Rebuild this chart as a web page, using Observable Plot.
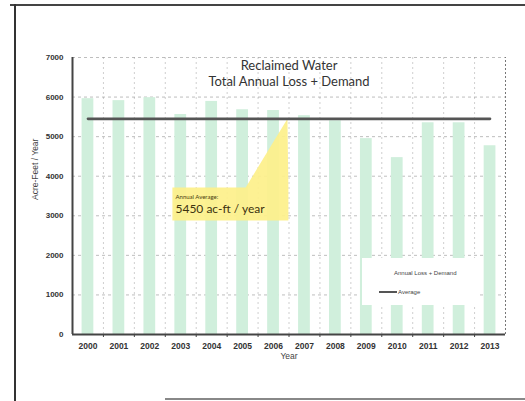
<!DOCTYPE html>
<html>
<head>
<meta charset="utf-8">
<script src="https://cdn.jsdelivr.net/npm/d3@7"></script>
<script src="https://cdn.jsdelivr.net/npm/@observablehq/plot@0.6"></script>
<style>
  html, body { margin: 0; padding: 0; background: #fff; }
  #wrap { position: relative; width: 525px; height: 401px; overflow: hidden; background: #fff; }
  #wrap svg { position: absolute; left: 0; top: 0; }
  .edge { position: absolute; }
  #legend { position: absolute; left: 362px; top: 258px; width: 116px; height: 47px; background: #fff;
            font-family: "Liberation Sans", Arial, sans-serif; font-size: 6px; color: #444; }
  #legend .row1 { position: absolute; left: 32px; top: 12px; white-space: nowrap; }
  #legend .row2 { position: absolute; left: 17px; top: 31px; white-space: nowrap; display: flex; align-items: center; }
  #legend .ln { display: inline-block; width: 18px; height: 2px; background: #555; margin-right: 1px; }
</style>
</head>
<body>
<div id="wrap"></div>
<script>
// ---- data ----
const years = [2000, 2001, 2002, 2003, 2004, 2005, 2006, 2007, 2008, 2009, 2010, 2011, 2012, 2013];
const lossDemand = [5960, 5910, 5985, 5560, 5890, 5680, 5660, 5530, 5400, 4950, 4470, 5350, 5350, 4770];
const annualAverage = 5450;
const yTicks = [0, 1000, 2000, 3000, 4000, 5000, 6000, 7000];
const titleLines = ["Reclaimed Water", "Total Annual Loss + Demand"];
const yLabel = "Acre-Feet / Year";
const xLabel = "Year";
const seriesNames = ["Annual Loss + Demand", "Average"];
const calloutSmall = "Annual Average:";
const calloutBig = "5450 ac-ft / year";
// callout shape (data units: year, acre-feet)
const calloutShapeX = [2002.73, 2005.1, 2006.45, 2006.48, 2006.48, 2002.73];
const calloutShapeY = [3715, 3715, annualAverage, 3715, 2881, 2881];

const rows = years.map((y, i) => ({year: y, value: lossDemand[i]}));
const bounds = years.slice(0, -1).map(y => y + 0.5);
const callout = calloutShapeX.map((x, i) => ({x, y: calloutShapeY[i]}));
const half = 0.19;

const chart = Plot.plot({
  width: 525,
  height: 401,
  marginLeft: 72,
  marginRight: 20,
  marginTop: 57,
  marginBottom: 67,
  style: {background: "transparent", fontFamily: "'Liberation Sans', Arial, sans-serif"},
  x: {type: "linear", domain: [1999.5, 2013.5], axis: null},
  y: {domain: [0, 7000], axis: null},
  marks: [
    Plot.ruleY(yTicks.slice(1), {stroke: "#888", strokeOpacity: 0.55, strokeDasharray: "3,3"}),
    Plot.ruleX(bounds, {y1: 0, y2: 7000, stroke: "#888", strokeOpacity: 0.4, strokeDasharray: "2,3"}),
    Plot.ruleX([2013.5], {y1: 0, y2: 7000, stroke: "#777", strokeDasharray: "2,2"}),
    Plot.rectY(rows, {x1: d => d.year - half, x2: d => d.year + half, y: "value", fill: "#d0efdc"}),
    Plot.line(callout, {x: "x", y: "y", fill: "#fdf08a", fillOpacity: 0.92, stroke: "none"}),
    Plot.lineY(years, {x: d => d, y: () => annualAverage, stroke: "#555", strokeWidth: 2.6}),
    Plot.text([calloutSmall], {x: 2002.83, y: 3470, text: d => d, textAnchor: "start", fontSize: 6, fill: "#4a3d10", fontFamily: "Lato, sans-serif"}),
    Plot.text([calloutBig], {x: 2002.83, y: 3160, text: d => d, textAnchor: "start", fontSize: 12, fill: "#3d3310", fontFamily: "Lato, sans-serif"}),
    Plot.ruleY([0], {stroke: "#444", strokeWidth: 2}),
    Plot.ruleX([1999.5], {y1: 0, y2: 7000, stroke: "#444", strokeWidth: 2}),
    Plot.axisY(yTicks, {tickSize: 0, tickPadding: 9, fontSize: 8, fontWeight: "bold", fill: "#333", tickFormat: d => String(d), label: null}),
    Plot.axisX(bounds, {tickSize: 3, tickFormat: () => "", stroke: "#444", label: null}),
    Plot.axisX(years, {tickSize: 0, tickPadding: 8, fontSize: 8.5, fontWeight: "bold", fill: "#333", tickFormat: d => String(d), label: null}),
    Plot.text([titleLines.join("\n")], {frameAnchor: "top", dy: 0, lineHeight: 1.3, fontSize: 13, fill: "#333", fontFamily: "Lato, sans-serif", lineAnchor: "top"}),
    Plot.text([yLabel], {frameAnchor: "left", dx: -37, dy: 4, rotate: -90, fontSize: 8.5, fill: "#444"}),
    Plot.text([xLabel], {frameAnchor: "bottom", lineAnchor: "middle", dy: 22, fontSize: 8.5, fill: "#444"})
  ]
});

const wrap = document.getElementById("wrap");
wrap.appendChild(chart);

// legend overlay
const lg = document.createElement("div");
lg.id = "legend";
lg.innerHTML = `<div class="row1">${seriesNames[0]}</div><div class="row2"><span class="ln"></span>${seriesNames[1]}</div>`;
wrap.appendChild(lg);

// scanned page frame edges
function edge(l, t, w, h, c) {
  const e = document.createElement("div");
  e.className = "edge";
  Object.assign(e.style, {left: l + "px", top: t + "px", width: w + "px", height: h + "px", background: c});
  wrap.appendChild(e);
}
edge(10, 4, 515, 2, "#444");
edge(14, 4, 2, 397, "#333");
edge(165, 398, 360, 2, "#888");
</script>
</body>
</html>
